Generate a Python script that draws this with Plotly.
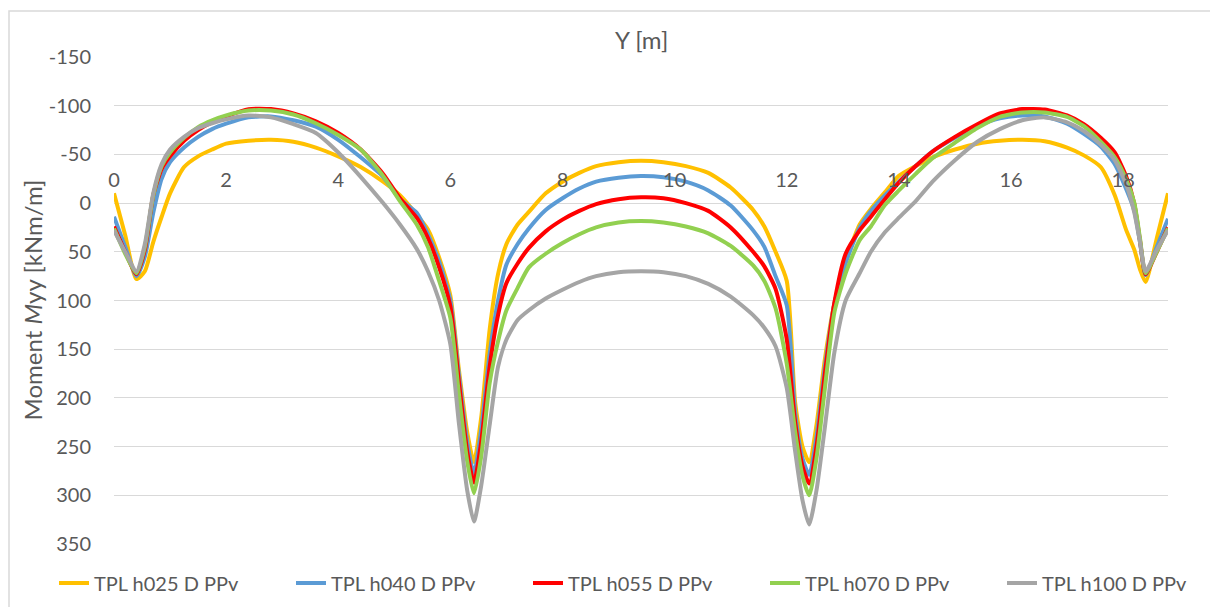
import plotly.graph_objects as go

# Position along the slab [m]
y_pos = [0, 0.2, 0.4, 0.55, 0.7, 0.85, 1.0, 1.25, 1.5, 1.75, 2.0, 2.4, 2.8, 3.2, 3.6, 4.0,
         4.4, 4.8, 5.1, 5.4, 5.6, 5.8, 6.0, 6.15, 6.3, 6.42, 6.55, 6.7, 6.85, 7.0, 7.2, 7.4,
         7.7, 8.0, 8.3, 8.6, 9.0, 9.4, 9.8, 10.2, 10.6, 11.0, 11.4, 11.6, 11.8, 12.0, 12.15,
         12.28, 12.4, 12.53, 12.68, 12.85, 13.05, 13.3, 13.5, 13.75, 14.0, 14.3, 14.6, 15.0,
         15.4, 15.8, 16.2, 16.6, 17.0, 17.3, 17.6, 17.85, 18.05, 18.2, 18.3, 18.4, 18.6, 18.8]

# Bending moment Myy [kNm/m] per load case
m_h025 = [-10, 33, 78, 70, 40, 14, -10, -37, -48, -55, -61, -64, -65, -63, -57, -48,
          -37, -22, -8, 12, 27, 56, 95, 170, 235, 266, 220, 130, 73, 42, 22, 9,
          -10, -22, -31, -38, -42, -43.5, -42, -38, -31, -16, 7, 24, 50, 80, 205,
          250, 266, 228, 160, 103, 60, 22, 6, -11, -28, -38, -47, -55,
          -61, -64, -65, -63.5, -57, -49, -37, -8, 27, 48, 68, 81, 36, -10]

m_h040 = [14, 45, 75, 55, 10, -25, -42, -57, -68, -76, -81.5, -88, -89, -85, -78.5, -65,
          -47, -27, -4, 10, 32, 60, 100, 175, 245, 278, 232, 155, 100, 63, 42, 26,
          7, -5, -15, -22, -26, -27.7, -26.5, -22, -13, 2.5, 28, 45, 75, 105, 215,
          262, 279, 240, 168, 103, 62, 25, 8, -8, -22, -38, -53, -67,
          -79, -87, -90, -89, -81.5, -71, -58, -40, -15, 8, 40, 74, 45, 16]

m_h055 = [24, 50, 73, 48, -8, -35, -48, -64, -75, -83, -89, -96.5, -96.5, -92, -84, -72,
          -55, -30, -5, 15, 36, 66, 106, 182, 255, 287, 245, 168, 115, 82, 62, 46,
          29, 17, 8, 1, -4, -6, -5, 0, 8, 25, 50, 65, 88, 140, 225,
          270, 288, 250, 175, 102, 52, 28, 14, -4, -21, -38, -53, -68,
          -81, -92, -96.5, -96, -90, -81, -67, -52, -28, 1, 38, 73, 50, 25]

m_h070 = [26, 52, 72, 45, -8, -38, -52, -67, -78, -85, -90, -95, -95, -91, -82, -70,
          -55, -28, -2, 22, 45, 80, 118, 195, 265, 298, 260, 185, 142, 110, 87, 66,
          52, 41, 32, 25, 20, 18.5, 20, 24, 31, 44, 64, 80, 108, 165, 235,
          280, 300, 262, 190, 112, 72, 38, 24, 2, -13, -30, -46, -62,
          -77, -88.5, -93, -93, -88.5, -79, -63, -47, -25, 0, 36, 72, 50, 26]

m_h100 = [28, 50, 70, 42, -10, -40, -55, -68, -77, -82, -86, -90, -88, -81, -72, -52,
          -27, 0, 22, 47, 70, 100, 145, 225, 295, 327, 290, 228, 168, 140, 120, 110,
          98, 89, 81, 75, 71, 70, 71, 75, 83, 96, 115, 128, 147, 190, 255,
          305, 330, 295, 230, 153, 100, 72, 50, 30, 15, -2, -22, -44,
          -63, -76, -85, -88, -83, -74, -60, -44, -20, 10, 40, 70, 48, 28]

series_names = ["TPL h025 D PPv", "TPL h040 D PPv", "TPL h055 D PPv",
                "TPL h070 D PPv", "TPL h100 D PPv"]
series_values = [m_h025, m_h040, m_h055, m_h070, m_h100]
series_colors = ["#FFC000", "#5B9BD5", "#FF0000", "#92D050", "#A5A5A5"]
legend_widths = [192, 192, 192, 192, 140]

x_ticks = [0, 2, 4, 6, 8, 10, 12, 14, 16, 18]
y_ticks = [-150, -100, -50, 0, 50, 100, 150, 200, 250, 300, 350]

FONT = "Lato, 'Open Sans', sans-serif"
TEXT_COLOR = "#595959"
GRID_COLOR = "#D9D9D9"

fig = go.Figure()
for name, vals, col, lw in zip(series_names, series_values, series_colors, legend_widths):
    fig.add_trace(go.Scatter(
        x=y_pos, y=vals, name=name, mode="lines",
        line=dict(color=col, width=4, shape="spline", smoothing=0.6),
        legendwidth=lw,
    ))

W, H = 1210, 607
L, R, T, B = 114, 42, 57, 63
plot_w, plot_h = W - L - R, H - T - B

y_min, y_max = -150, 350
# horizontal axis sits on the zero line of the reversed moment axis
zero_frac = (y_max - 0) / (y_max - y_min)

fig.update_layout(
    width=W, height=H,
    margin=dict(l=L, r=R, t=T, b=B, autoexpand=False),
    paper_bgcolor="white", plot_bgcolor="white",
    font=dict(family=FONT, size=20, color=TEXT_COLOR),
    showlegend=True,
    legend=dict(
        orientation="h", x=(54 - L) / plot_w, xanchor="left",
        y=(H - B - 583) / plot_h, yanchor="middle",
        font=dict(family=FONT, size=20, color=TEXT_COLOR),
        itemwidth=30, bgcolor="rgba(0,0,0,0)",
    ),
    xaxis=dict(
        range=[0, 18.8], tickvals=x_ticks, ticktext=[str(v) for v in x_ticks],
        showgrid=False, zeroline=False, showline=False, ticks="",
        anchor="free", position=zero_frac, side="top",
        tickfont=dict(family=FONT, size=20, color=TEXT_COLOR),
        ticklabelstandoff=12,
    ),
    yaxis=dict(
        range=[y_max, y_min], tickvals=y_ticks, ticktext=[str(v) for v in y_ticks],
        showgrid=True, gridcolor=GRID_COLOR, gridwidth=1.3,
        zeroline=False, showline=False, ticks="",
        tickfont=dict(family=FONT, size=20, color=TEXT_COLOR),
        ticklabelstandoff=22,
    ),
)

# axis titles
fig.add_annotation(
    text="Y [m]", xref="paper", yref="paper",
    x=0.5, y=(H - B - 40) / plot_h, xanchor="center", yanchor="middle",
    showarrow=False, font=dict(family=FONT, size=24, color=TEXT_COLOR),
)
fig.add_annotation(
    text="Moment <i>M</i>yy [kNm/m]", xref="paper", yref="paper",
    x=(32 - L) / plot_w, y=0.5, xanchor="center", yanchor="middle", textangle=-90,
    showarrow=False, font=dict(family=FONT, size=24, color=TEXT_COLOR),
)

# chart frame
fig.add_shape(
    type="rect", xref="paper", yref="paper",
    x0=(9 - L) / plot_w, x1=(W + 10 - L) / plot_w,
    y0=(H - B - (H + 10)) / plot_h, y1=(H - B - 11) / plot_h,
    line=dict(color=GRID_COLOR, width=1.5), fillcolor="rgba(0,0,0,0)", layer="below",
)

fig.write_html("out.html")
